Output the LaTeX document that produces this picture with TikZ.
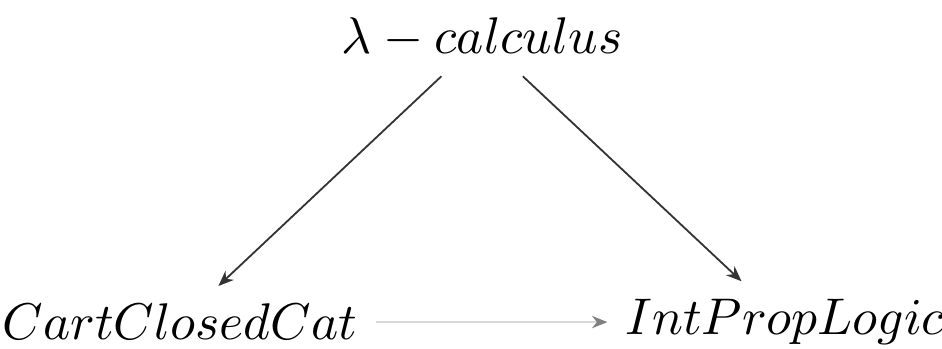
\documentclass[tikz,border=0pt]{standalone}
\usepackage{amsmath,amssymb}
\usepackage{xcolor}
\usetikzlibrary{arrows.meta,positioning,calc}

\begin{document}
\begin{tikzpicture}[
  every node/.style={font=\normalsize},
  obj/.style={inner sep=0.333em},
  map/.style={-{Stealth[length=3pt,width=2.4pt]}, line width=0.35pt, draw=black!80},
  faint/.style={-{Stealth[length=3pt,width=2.4pt,color=black!50]}, line width=0.3pt, draw=black!15}
]
\useasboundingbox (0,0) rectangle (6.42,2.372);

\node[obj] (lam) at (3.285,2.113) {$\lambda-calculus$};
\node[obj] (ccc) at (1.227,0.177) {$CartClosedCat$};
\node[obj] (ipl) at (5.350,0.177) {$IntPropLogic$};

\draw[map]   (lam) -- (ccc);
\draw[map]   (lam) -- (ipl);
\draw[faint] (ccc) -- (ipl);
\end{tikzpicture}
\end{document}
